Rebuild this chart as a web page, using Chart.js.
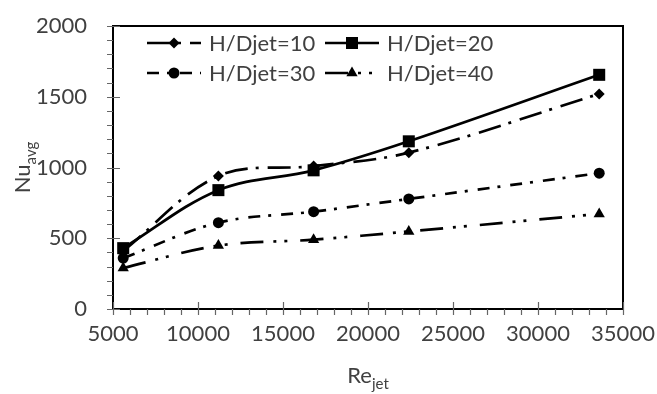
<!DOCTYPE html>
<html>
<head>
<meta charset="utf-8">
<script src="https://cdn.jsdelivr.net/npm/chart.js@4"></script>
<style>
  html, body { margin: 0; padding: 0; background: #fff; }
  #wrap { width: 657px; height: 394px; }
</style>
</head>
<body>
<div id="wrap"><canvas id="nuChart"></canvas></div>
<script>
// Re_jet on x, Nu_avg on y, one array per H/Djet
const reJet = [5600, 11200, 16800, 22400, 33600];
const nu10 = [410, 940, 1010, 1105, 1520];
const nu20 = [430, 840, 980, 1185, 1655];
const nu30 = [360, 610, 688, 778, 960];
const nu40 = [290, 448, 490, 548, 672];
const seriesNames = ['H/Djet=10', 'H/Djet=20', 'H/Djet=30', 'H/Djet=40'];

const FONT = 'Lato, "Open Sans", sans-serif';
const TXT = '#404040';

const styles = [
  { dash: [23, 8, 3, 9], point: 'rectRot', r: 5.5 },
  { dash: [], point: 'rect', r: 8.5 },
  { dash: [12, 8, 3, 10], point: 'circle', r: 5.5 },
  { dash: [23, 10, 3, 8, 3, 13], point: 'triangle', r: 6.5 }
];

const pts = arr => reJet.map((x, i) => ({ x: x, y: arr[i] }));

const datasets = [nu10, nu20, nu30, nu40].map((arr, i) => ({
  label: seriesNames[i],
  data: pts(arr),
  borderColor: '#000',
  backgroundColor: '#000',
  borderWidth: 2.7,
  borderDash: styles[i].dash,
  pointStyle: styles[i].point,
  pointRadius: styles[i].r,
  pointBorderWidth: 0,
  tension: 0.35
}));

// frame, tick marks, axis titles and in-plot legend
const decor = {
  id: 'decor',
  afterDraw(chart) {
    const { ctx, chartArea: a, scales: { x, y } } = chart;
    ctx.save();
    ctx.strokeStyle = '#000';
    ctx.lineWidth = 2;
    ctx.strokeRect(a.left, a.top, a.right - a.left, a.bottom - a.top);

    ctx.strokeStyle = '#666';
    ctx.lineWidth = 1.2;
    ctx.beginPath();
    for (let v = 0; v <= 2000; v += 100) {
      const py = Math.round(y.getPixelForValue(v)) + 0.5;
      const major = v % 500 === 0;
      ctx.moveTo(a.left - 6, py);
      ctx.lineTo(a.left + (major ? 7 : 0), py);
    }
    for (let v = 5000; v <= 35000; v += 1000) {
      const px = Math.round(x.getPixelForValue(v)) + 0.5;
      const major = v % 5000 === 0;
      ctx.moveTo(px, a.bottom + 6);
      ctx.lineTo(px, a.bottom - (major ? 7 : 0));
    }
    ctx.stroke();

    // axis titles with subscripts
    ctx.fillStyle = TXT;
    ctx.textBaseline = 'alphabetic';
    ctx.font = '22px ' + FONT;
    const reW = ctx.measureText('Re').width;
    ctx.font = '15px ' + FONT;
    const jetW = ctx.measureText('jet').width;
    let sx = (a.left + a.right) / 2 - (reW + jetW) / 2;
    ctx.font = '22px ' + FONT;
    ctx.fillText('Re', sx, 383);
    ctx.font = '15px ' + FONT;
    ctx.fillText('jet', sx + reW, 389);

    ctx.save();
    ctx.translate(30, (a.top + a.bottom) / 2);
    ctx.rotate(-Math.PI / 2);
    ctx.font = '22px ' + FONT;
    const nuW = ctx.measureText('Nu').width;
    ctx.font = '15px ' + FONT;
    const avgW = ctx.measureText('avg').width;
    sx = -(nuW + avgW) / 2;
    ctx.font = '22px ' + FONT;
    ctx.fillText('Nu', sx, 0);
    ctx.font = '15px ' + FONT;
    ctx.fillText('avg', sx + nuW, 6);
    ctx.restore();

    // legend, two columns
    const cols = [147, 325];
    const rows = [43, 73];
    chart.data.datasets.forEach((ds, i) => {
      const lx = cols[i % 2];
      const ly = rows[Math.floor(i / 2)];
      ctx.strokeStyle = '#000';
      ctx.lineWidth = 2.7;
      ctx.setLineDash(ds.borderDash);
      ctx.beginPath();
      ctx.moveTo(lx, ly);
      ctx.lineTo(lx + 54, ly);
      ctx.stroke();
      ctx.setLineDash([]);
      ctx.fillStyle = '#000';
      Chart.helpers.drawPoint(ctx, { pointStyle: ds.pointStyle, radius: ds.pointRadius, borderWidth: 0 }, lx + 27, ly);
      ctx.fillStyle = TXT;
      ctx.font = '22px ' + FONT;
      ctx.textBaseline = 'middle';
      ctx.fillText(ds.label, lx + 62, ly + 1);
    });
    ctx.restore();
  }
};

const plain = v => String(v);

// invisible tick marks give the label gap without growing the edge padding
const hiddenGrid = len => ({ display: true, drawOnChartArea: false, drawTicks: true, tickLength: len, tickColor: 'rgba(0,0,0,0)', color: 'rgba(0,0,0,0)' });

new Chart(document.getElementById('nuChart'), {
  type: 'line',
  data: { datasets: datasets },
  plugins: [decor],
  options: {
    responsive: true,
    maintainAspectRatio: false,
    animation: false,
    layout: { padding: { top: 26, right: 34, left: 0, bottom: 0 } },
    plugins: {
      legend: { display: false },
      tooltip: { enabled: false }
    },
    scales: {
      x: {
        type: 'linear',
        min: 5000,
        max: 35000,
        ticks: { stepSize: 5000, color: TXT, font: { family: FONT, size: 22 }, padding: 0, maxRotation: 0, callback: plain },
        grid: hiddenGrid(12),
        border: { display: false },
        afterFit: s => { s.height = 85; }
      },
      y: {
        min: 0,
        max: 2000,
        ticks: { stepSize: 500, color: TXT, font: { family: FONT, size: 22 }, padding: 0, callback: plain },
        grid: hiddenGrid(26),
        border: { display: false },
        afterFit: s => { s.width = 113; }
      }
    }
  }
});
</script>
</body>
</html>
